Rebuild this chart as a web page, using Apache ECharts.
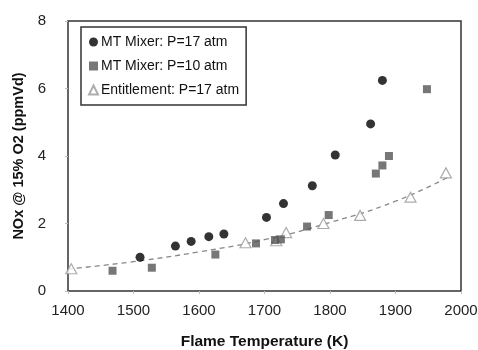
<!DOCTYPE html>
<html>
<head>
<meta charset="utf-8">
<script src="https://cdn.jsdelivr.net/npm/echarts@6/dist/echarts.min.js"></script>
<style>
  html, body { margin: 0; padding: 0; background: #fff; }
  #chart-box { width: 478px; height: 350px; }
</style>
</head>
<body>
<div id="chart-box"></div>
<script>
// values
var mixer17 = [
  [1510, 1.00], [1564, 1.33], [1588, 1.47], [1615, 1.61], [1638, 1.69],
  [1703, 2.18], [1729, 2.59], [1773, 3.12], [1808, 4.03], [1862, 4.95], [1880, 6.24]
];
var mixer10 = [
  [1468, 0.60], [1528, 0.69], [1625, 1.08], [1687, 1.41], [1716, 1.51],
  [1725, 1.53], [1765, 1.91], [1798, 2.25], [1870, 3.48], [1880, 3.72],
  [1890, 4.00], [1948, 5.98]
];
var entitlement = [
  [1405, 0.66], [1671, 1.43], [1718, 1.49], [1733, 1.73], [1790, 2.00],
  [1846, 2.24], [1923, 2.78], [1977, 3.50]
];
// dashed trend line
var trend = [
  [1400, 0.65], [1500, 0.87], [1600, 1.16], [1700, 1.52],
  [1800, 2.03], [1900, 2.66], [1980, 3.37]
];
var xTicks = [1400, 1500, 1600, 1700, 1800, 1900, 2000];
var yTicks = [0, 2, 4, 6, 8];

var chart = echarts.init(document.getElementById('chart-box'));
var font = 'Arial, "Liberation Sans", sans-serif';
var option = {
  animation: false,
  textStyle: { fontFamily: font },
  grid: {
    left: 68, right: 17, top: 21, bottom: 59,
    outerBoundsMode: 'none',
    show: true, borderColor: '#333', borderWidth: 1.5
  },
  legend: {
    orient: 'vertical',
    left: 81, top: 27,
    padding: [8, 7, 8, 7],
    itemGap: 10,
    itemWidth: 9, itemHeight: 9,
    borderColor: '#333', borderWidth: 1.5,
    textStyle: { fontSize: 14, color: '#111', fontFamily: font, padding: [0, 0, 0, -2] },
    data: [
      { name: 'MT Mixer: P=17 atm', icon: 'circle' },
      { name: 'MT Mixer: P=10 atm', icon: 'rect' },
      { name: 'Entitlement: P=17 atm', icon: 'triangle' }
    ]
  },
  xAxis: {
    type: 'value',
    min: xTicks[0], max: xTicks[xTicks.length - 1], interval: 100,
    name: 'Flame Temperature (K)',
    nameLocation: 'middle', nameGap: 43,
    nameTextStyle: { fontSize: 15.5, fontWeight: 'bold', color: '#111' },
    axisLine: { show: false },
    axisTick: { show: true, length: 3, lineStyle: { color: '#bbb' } },
    axisLabel: { fontSize: 15, color: '#222', margin: 12, formatter: function (v) { return String(v); } },
    splitLine: { show: false }
  },
  yAxis: {
    type: 'value',
    min: yTicks[0], max: yTicks[yTicks.length - 1], interval: 2,
    name: 'NOx @ 15% O2 (ppmVd)',
    nameLocation: 'middle', nameGap: 39,
    nameTextStyle: { fontSize: 14.5, fontWeight: 'bold', color: '#111' },
    axisLine: { show: false },
    axisTick: { show: true, length: 3, lineStyle: { color: '#bbb' } },
    axisLabel: { fontSize: 15, color: '#222', margin: 22 },
    splitLine: { show: false }
  },
  series: [
    {
      name: 'Entitlement trend',
      type: 'line',
      data: trend,
      smooth: true,
      showSymbol: false,
      silent: true,
      lineStyle: { color: '#888', width: 1.3, type: [5, 4] },
      z: 1
    },
    {
      name: 'MT Mixer: P=17 atm',
      type: 'scatter',
      data: mixer17,
      symbol: 'circle',
      symbolSize: 9,
      itemStyle: { color: '#000' },
      z: 3
    },
    {
      name: 'MT Mixer: P=10 atm',
      type: 'scatter',
      data: mixer10,
      symbol: 'rect',
      symbolSize: 8,
      itemStyle: { color: '#555' },
      z: 3
    },
    {
      name: 'Entitlement: P=17 atm',
      type: 'scatter',
      data: entitlement,
      symbol: 'triangle',
      symbolSize: [11, 10],
      itemStyle: { color: '#fff', borderColor: '#999', borderWidth: 1.2 },
      z: 2
    }
  ]
};
chart.setOption(option);
</script>
</body>
</html>
